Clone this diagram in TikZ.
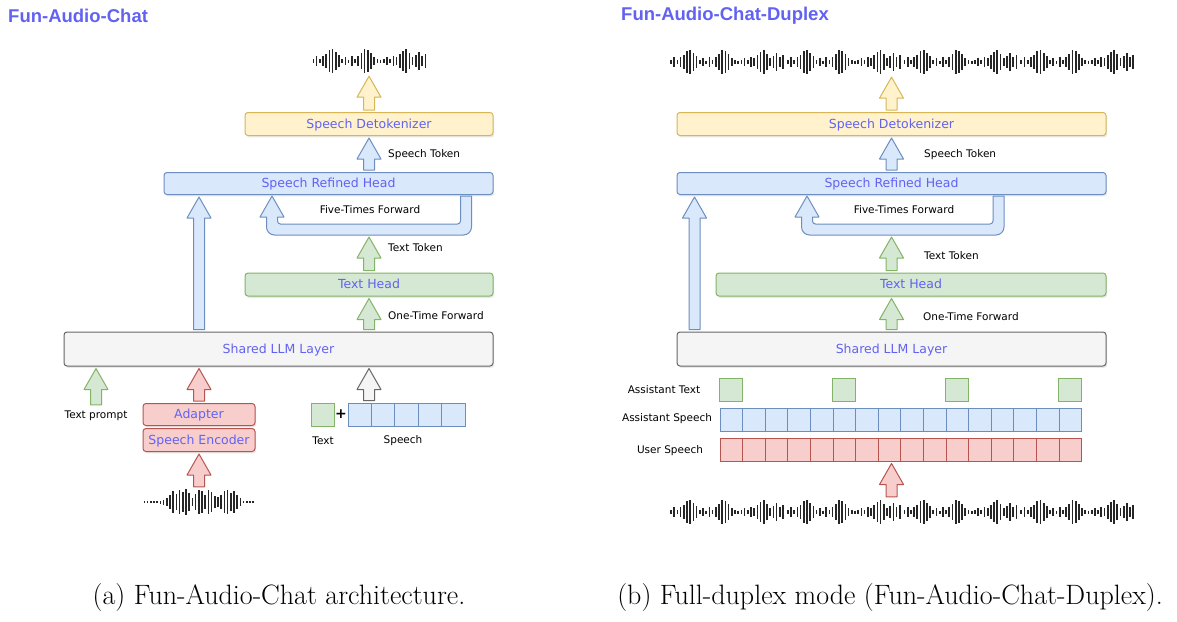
\documentclass[tikz,border=0pt]{standalone}
\usepackage{fontspec}
\usetikzlibrary{calc,shadows}
\newfontfamily\diafont{DejaVu Sans}
\newfontfamily\headfont{Liberation Sans}
\definecolor{labelblue}{HTML}{6262F2}
\definecolor{yelfill}{HTML}{FFF2CC}
\definecolor{yeldraw}{HTML}{D6B656}
\definecolor{bluefill}{HTML}{DAE8FC}
\definecolor{bluedraw}{HTML}{6C8EBF}
\definecolor{grnfill}{HTML}{D5E8D4}
\definecolor{grndraw}{HTML}{82B366}
\definecolor{redfill}{HTML}{F8CECC}
\definecolor{reddraw}{HTML}{B85450}
\definecolor{gryfill}{HTML}{F5F5F5}
\definecolor{grydraw}{HTML}{666666}

% bar heights of the wave forms
\newcommand\wavetop{2,5,2,5,7,11,12,9,6,2,4,1.5,5,2,5,8,12,11,8,4,2,1.5,2,4,2,5,4,7,10,12,8,4,6,9,5,7}
\newcommand\wavelow{1,1,1,1,1,1.5,2.5,4,7,11,8,12,10,13,9,4,8,12,11,7,12,10,6,5,7,11,12,9,11,7,4,1,1,1,1}

\tikzset{
  blockup/.style={to path={let \p1=(\tikztostart), \p2=(\tikztotarget) in
      (\x1-5.5pt,\y1+2pt) -- (\x1-5.5pt,\y2-23pt) -- (\x1-12pt,\y2-23pt) -- (\x1,\y2-2pt)
      -- (\x1+12pt,\y2-23pt) -- (\x1+5.5pt,\y2-23pt) -- (\x1+5.5pt,\y1+2pt) -- cycle}},
  fiveloop/.style={to path={let \p1=(\tikztostart), \p2=(\tikztotarget) in
      (\x1+5.5pt,\y1-2pt) [rounded corners=8pt] -- (\x1+5.5pt,\y1-41pt) -- (\x2-5.5pt,\y1-41pt)
      [sharp corners] -- (\x2-5.5pt,\y2-23pt) -- (\x2-12pt,\y2-23pt) -- (\x2,\y2-2pt)
      -- (\x2+12pt,\y2-23pt) -- (\x2+5.5pt,\y2-23pt) [rounded corners=3pt] -- (\x2+5.5pt,\y1-30pt)
      -- (\x1-5.5pt,\y1-30pt) [sharp corners] -- (\x1-5.5pt,\y1-2pt) -- cycle}},
}

\begin{document}
\begin{tikzpicture}[
    x=1pt, y=-1pt,
    box/.style={draw, rounded corners=3pt, line width=1pt, inner sep=0pt, text=labelblue,
                text height=9.5pt, text depth=1pt,
                font=\diafont\fontsize{12.5}{14}\selectfont,
                drop shadow={shadow xshift=1.2pt, shadow yshift=-1.8pt, opacity=0.18}},
    yelbox/.style={box, fill=yelfill, draw=yeldraw},
    bluebox/.style={box, fill=bluefill, draw=bluedraw},
    grnbox/.style={box, fill=grnfill, draw=grndraw},
    redbox/.style={box, fill=redfill, draw=reddraw},
    grybox/.style={box, fill=gryfill, draw=grydraw},
    cell/.style={draw, line width=1pt, inner sep=0pt, minimum height=23pt},
    bluecell/.style={cell, fill=bluefill, draw=bluedraw},
    grncell/.style={cell, fill=grnfill, draw=grndraw, minimum width=23pt},
    redcell/.style={cell, fill=redfill, draw=reddraw},
    yelarr/.style={fill=yelfill, draw=yeldraw, line width=1pt, line join=round},
    bluearr/.style={fill=bluefill, draw=bluedraw, line width=1pt, line join=round},
    grnarr/.style={fill=grnfill, draw=grndraw, line width=1pt, line join=round},
    redarr/.style={fill=redfill, draw=reddraw, line width=1pt, line join=round},
    gryarr/.style={fill=gryfill, draw=grydraw, line width=1pt, line join=round},
    lbl/.style={font=\diafont\fontsize{10.5}{12}\selectfont, inner sep=0pt},
    ttl/.style={font=\headfont\bfseries\fontsize{18.5}{21}\selectfont, text=labelblue, anchor=west, inner sep=0pt},
    captext/.style={font=\fontsize{28}{32}\selectfont, inner sep=0pt},
    wave/.style={minimum height=26pt, inner sep=0pt},
    wavebar/.style={line width=1.7pt, draw=black!85},
]
  \useasboundingbox (0,0) rectangle (1177,621);

  % (a) Fun-Audio-Chat
  \node [ttl]                                         (tA)   at (8,16)       {Fun-Audio-Chat};
  \node [wave, minimum width=116pt]                   (wvA)  at (370,61)     {};
  \node [yelbox, minimum width=248pt, minimum height=23pt] (det)  at (369,124)  {Speech Detokenizer};
  \node [bluebox, minimum width=329pt, minimum height=22pt] (srh)  at (328.5,183.5) {Speech Refined Head};
  \node [grnbox, minimum width=248pt, minimum height=23pt]  (th)   at (369,284.5)  {Text Head};
  \node [grybox, minimum width=429pt, minimum height=34pt]  (llm)  at (278.5,349)  {Shared LLM Layer};
  \node [redbox, minimum width=112pt, minimum height=22pt]  (adp)  at (199,414.5)  {Adapter};
  \node [redbox, minimum width=112pt, minimum height=23pt]  (enc)  at (199,440)    {Speech Encoder};
  \node [wave, minimum width=112pt]                   (wvB)  at (199,502)    {};
  \node [grncell]                                     (tx)   at (322.5,414.5) {};
  \node [inner sep=0pt, font=\diafont\bfseries\fontsize{14}{14}\selectfont] (plus) at (341,414) {+};
  \foreach \i in {0,...,4}
    \node [bluecell, minimum width=23.4pt]            (sp\i) at (359.7+\i*23.4,414.5) {};
  \node [lbl]                                         (tp)   at (96,416)     {Text prompt};
  \node [lbl]                                         (txl)  at (323,441)    {Text};
  \node [lbl]                                         (spl)  at (403,441)    {Speech};
  \node [lbl, anchor=west]                            (stA)  at (388,155)    {Speech Token};
  \node [lbl]                                         (ftA)  at (370,210)    {Five-Times Forward};
  \node [lbl, anchor=west]                            (ttA)  at (388,248)    {Text Token};
  \node [lbl, anchor=west]                            (otA)  at (388,316)    {One-Time Forward};
  \coordinate (fvR) at (466,194);
  \coordinate (fvL) at (272,194);
  \coordinate (fvB) at (369,235);

  \draw [yelarr]  (det.north) to [blockup] (wvA.south -| det.north);
  \draw [bluearr] (srh.north -| det.north) to [blockup] (det.south);
  \draw [bluearr] (fvR) to [fiveloop] (fvL);
  \draw [grnarr]  (th.north) to [blockup] (fvB);
  \draw [grnarr]  (llm.north -| th.north) to [blockup] (th.south);
  \draw [bluearr] (llm.north -| adp.north) to [blockup] (srh.south -| adp.north);
  \draw [grnarr]  ([yshift=4pt]tp.north) to [blockup] (llm.south -| tp.north);
  \draw [redarr]  (adp.north) to [blockup] (llm.south -| adp.north);
  \draw [redarr]  (wvB.north) to [blockup] (enc.south);
  \draw [gryarr]  (sp0.north -| th.south) to [blockup] (llm.south -| th.south);

  % (b) Fun-Audio-Chat-Duplex
  \node [ttl]                                         (tB)   at (621,16)     {Fun-Audio-Chat-Duplex};
  \node [wave, minimum width=467pt]                   (wvC)  at (901.5,62)   {};
  \node [yelbox, minimum width=429pt, minimum height=23pt] (det2) at (891.5,124) {Speech Detokenizer};
  \node [bluebox, minimum width=429pt, minimum height=22pt] (srh2) at (891.5,183.5)  {Speech Refined Head};
  \node [grnbox, minimum width=390pt, minimum height=23pt]  (th2)  at (911,284.5)  {Text Head};
  \node [grybox, minimum width=429pt, minimum height=34pt]  (llm2) at (891.5,349)  {Shared LLM Layer};
  \foreach \i in {0,5,10,15}
    \node [grncell]                                   (at\i) at (731.3+\i*22.6,389.5) {};
  \foreach \i in {0,...,15}
    \node [bluecell, minimum width=22.6pt]            (as\i) at (731.3+\i*22.6,419.5) {};
  \foreach \i in {0,...,15}
    \node [redcell, minimum width=22.6pt]             (us\i) at (731.3+\i*22.6,449.5) {};
  \node [wave, minimum width=467pt]                   (wvD)  at (901.5,512)  {};
  \node [lbl]                                         (atl)  at (664,390)    {Assistant Text};
  \node [lbl]                                         (asl)  at (667,419)    {Assistant Speech};
  \node [lbl]                                         (usl)  at (670,451)    {User Speech};
  \node [lbl, anchor=west]                            (stB)  at (924,155)    {Speech Token};
  \node [lbl]                                         (ftB)  at (904,210)    {Five-Times Forward};
  \node [lbl, anchor=west]                            (ttB)  at (924,256)    {Text Token};
  \node [lbl, anchor=west]                            (otB)  at (923,317)    {One-Time Forward};
  \coordinate (bigx) at (694.5,0);
  \coordinate (fvR2) at (998.5,194);
  \coordinate (fvL2) at (807,194);
  \coordinate (fvB2) at (891.5,235);

  \draw [yelarr]  (det2.north) to [blockup] (wvC.south -| det2.north);
  \draw [bluearr] (srh2.north) to [blockup] (det2.south);
  \draw [bluearr] (fvR2) to [fiveloop] (fvL2);
  \draw [grnarr]  (th2.north -| llm2.north) to [blockup] (fvB2);
  \draw [grnarr]  (llm2.north) to [blockup] (th2.south -| llm2.north);
  \draw [bluearr] (llm2.north -| bigx) to [blockup] (srh2.south -| bigx);
  \draw [redarr]  (wvD.north -| llm2.south) to [blockup] (us0.south -| llm2.south);

  % wave forms
  \foreach \h [count=\i] in \wavetop
    \draw [wavebar] ([xshift=\i*3.2pt-1.6pt, yshift=\h pt]wvA.west) -- ++(0,2*\h);
  \foreach \h [count=\i] in \wavelow
    \draw [wavebar] ([xshift=\i*3.2pt-1.6pt, yshift=\h pt]wvB.west) -- ++(0,2*\h);
  \foreach \k in {0,...,3} {
    \foreach \h [count=\i] in \wavetop
      \draw [wavebar] ([xshift=\k*116.75pt+\i*3.2pt, yshift=\h pt]wvC.west) -- ++(0,2*\h);
    \foreach \h [count=\i] in \wavetop
      \draw [wavebar] ([xshift=\k*116.75pt+\i*3.2pt, yshift=\h pt]wvD.west) -- ++(0,2*\h);
  }

  % captions
  \node [captext] (capA) at (279,598) {(a) Fun-Audio-Chat architecture.};
  \node [captext] (capB) at (890,598) {(b) Full-duplex mode (Fun-Audio-Chat-Duplex).};
\end{tikzpicture}
\end{document}
